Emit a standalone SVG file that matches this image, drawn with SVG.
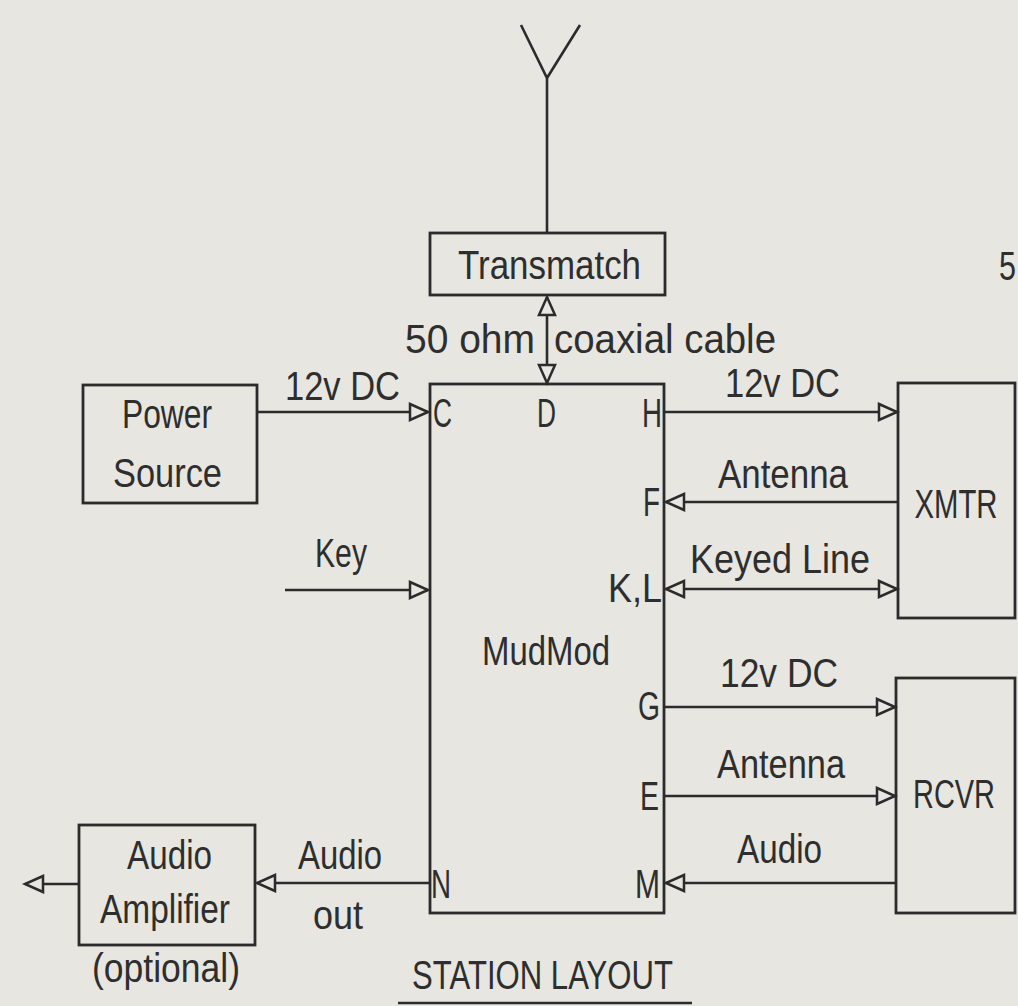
<svg xmlns="http://www.w3.org/2000/svg" width="1018" height="1006" viewBox="0 0 1018 1006">
<defs>
<style>
.ln{fill:none;stroke:#2b2b2b;stroke-width:2.6}
.bx{fill:none;stroke:#2b2b2b;stroke-width:2.8}
text{font-family:"Liberation Sans",Arial,sans-serif;font-size:40px;fill:#2e2e2e}
.mid{text-anchor:middle}
</style>
<marker id="ah" markerUnits="userSpaceOnUse" markerWidth="24" markerHeight="22" viewBox="-2 -2 24 22" refX="18" refY="8" orient="auto-start-reverse">
<path d="M0,0 L18,8 L0,16 Z" fill="#e7e6e0" stroke="#2b2b2b" stroke-width="2.5"/>
</marker>
</defs>
<rect width="1018" height="1006" fill="#e7e6e0"/>

<g id="antenna">
<path class="ln" d="M521,25 L547,78 L580,25 M547,78 V233"/>
</g>

<g id="transmatch">
<rect class="bx" x="430" y="233" width="235" height="62"/>
<text x="458" y="279" textLength="183" lengthAdjust="spacingAndGlyphs">Transmatch</text>
</g>

<g id="power-source">
<rect class="bx" x="83" y="385" width="174" height="118"/>
<text x="122" y="428" textLength="90" lengthAdjust="spacingAndGlyphs">Power</text>
<text x="113" y="487" textLength="109" lengthAdjust="spacingAndGlyphs">Source</text>
</g>

<g id="mudmod">
<rect class="bx" x="430" y="384" width="234" height="529"/>
<text x="482" y="665" textLength="128" lengthAdjust="spacingAndGlyphs">MudMod</text>
<text x="433" y="427" textLength="19" lengthAdjust="spacingAndGlyphs">C</text>
<text x="537" y="427" textLength="19" lengthAdjust="spacingAndGlyphs">D</text>
<text x="642" y="427" textLength="20" lengthAdjust="spacingAndGlyphs">H</text>
<text x="643" y="516" textLength="17" lengthAdjust="spacingAndGlyphs">F</text>
<text x="608" y="602" textLength="54" lengthAdjust="spacingAndGlyphs">K,L</text>
<text x="638" y="720" textLength="22" lengthAdjust="spacingAndGlyphs">G</text>
<text x="640" y="810" textLength="19" lengthAdjust="spacingAndGlyphs">E</text>
<text x="635" y="898" textLength="25" lengthAdjust="spacingAndGlyphs">M</text>
<text x="431" y="898" textLength="20" lengthAdjust="spacingAndGlyphs">N</text>
</g>

<g id="xmtr">
<rect class="bx" x="898" y="383" width="117" height="235"/>
<text class="mid" x="956" y="518" textLength="83" lengthAdjust="spacingAndGlyphs">XMTR</text>
</g>

<g id="rcvr">
<rect class="bx" x="896" y="678" width="119" height="235"/>
<text class="mid" x="954" y="808" textLength="82" lengthAdjust="spacingAndGlyphs">RCVR</text>
</g>

<g id="audio-amplifier">
<rect class="bx" x="79" y="825" width="176" height="120"/>
<text x="127" y="869" textLength="85" lengthAdjust="spacingAndGlyphs">Audio</text>
<text x="100" y="923" textLength="130" lengthAdjust="spacingAndGlyphs">Amplifier</text>
<text x="92" y="982" textLength="148" lengthAdjust="spacingAndGlyphs">(optional)</text>
</g>

<g id="connectors">
<path class="ln" d="M547,297 V383" marker-start="url(#ah)" marker-end="url(#ah)"/>
<path class="ln" d="M257,412 H428" marker-end="url(#ah)"/>
<path class="ln" d="M285,590 H428" marker-end="url(#ah)"/>
<path class="ln" d="M664,412 H897" marker-end="url(#ah)"/>
<path class="ln" d="M897,502 H666" marker-end="url(#ah)"/>
<path class="ln" d="M666,589 H897" marker-start="url(#ah)" marker-end="url(#ah)"/>
<path class="ln" d="M664,707 H895" marker-end="url(#ah)"/>
<path class="ln" d="M664,796 H895" marker-end="url(#ah)"/>
<path class="ln" d="M896,883 H666" marker-end="url(#ah)"/>
<path class="ln" d="M430,883 H257" marker-end="url(#ah)"/>
<path class="ln" d="M79,884 H25" marker-end="url(#ah)"/>
</g>

<g id="labels">
<text x="405" y="353" textLength="130" lengthAdjust="spacingAndGlyphs">50 ohm</text>
<text x="554" y="353" textLength="222" lengthAdjust="spacingAndGlyphs">coaxial  cable</text>
<text x="285" y="400" textLength="115" lengthAdjust="spacingAndGlyphs">12v  DC</text>
<text x="315" y="567" textLength="52" lengthAdjust="spacingAndGlyphs">Key</text>
<text x="725" y="397" textLength="115" lengthAdjust="spacingAndGlyphs">12v  DC</text>
<text x="718" y="488" textLength="130" lengthAdjust="spacingAndGlyphs">Antenna</text>
<text x="690" y="573" textLength="180" lengthAdjust="spacingAndGlyphs">Keyed  Line</text>
<text x="720" y="687" textLength="118" lengthAdjust="spacingAndGlyphs">12v  DC</text>
<text x="717" y="778" textLength="128" lengthAdjust="spacingAndGlyphs">Antenna</text>
<text x="737" y="863" textLength="85" lengthAdjust="spacingAndGlyphs">Audio</text>
<text x="298" y="869" textLength="84" lengthAdjust="spacingAndGlyphs">Audio</text>
<text x="313" y="929" textLength="50" lengthAdjust="spacingAndGlyphs">out</text>
<text x="1016" y="280" style="text-anchor:end" textLength="17" lengthAdjust="spacingAndGlyphs">5</text>
</g>

<g id="title">
<text x="412" y="989" textLength="261" lengthAdjust="spacingAndGlyphs">STATION  LAYOUT</text>
<path class="ln" d="M398,1003 H692"/>
</g>
</svg>
